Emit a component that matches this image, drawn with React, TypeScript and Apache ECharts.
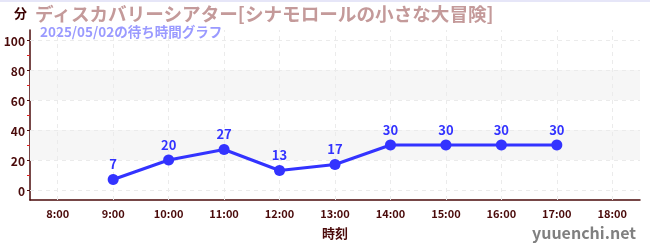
import React, { useEffect, useRef } from "react";
import * as echarts from "echarts";

const categories = ["8:00", "9:00", "10:00", "11:00", "12:00", "13:00", "14:00", "15:00", "16:00", "17:00", "18:00"];
const waitTimes: (number | null)[] = [null, 7, 20, 27, 13, 17, 30, 30, 30, 30, null];
const yTicks = [0, 20, 40, 60, 80, 100];
const yMinorTicks = [10, 30, 50, 70, 90];
const shadedBands = [[20, 40], [60, 80]];
const Y_MIN = -20 / 3;
const Y_MAX = 320 / 3;

const titleText = "ディスカバリーシアター[シナモロールの小さな大冒険]";
const subtitleText = "2025/05/02の待ち時間グラフ";
const yName = "分";
const xName = "時刻";
const watermark = "yuuenchi.net";

const FONT = "'Noto Sans CJK JP', 'Noto Sans', sans-serif";
const DARK = "#4a0a0a";
const BLUE = "#3333ff";

export default function App() {
  const ref = useRef<HTMLDivElement>(null);
  useEffect(() => {
    if (!ref.current) return;
    const chart = echarts.init(ref.current, undefined, { renderer: "svg" });
    const grid = { left: 30, right: 10, top: 30, bottom: 50 };
    const yBase = { type: "value", min: Y_MIN, max: Y_MAX, splitLine: { show: false }, gridIndex: 0 };
    chart.setOption({
      animation: false,
      textStyle: { fontFamily: FONT },
      grid,
      graphic: [
        { type: "rect", left: 0, top: 0, shape: { width: 650, height: 2 }, style: { fill: "#e6e6f8" }, silent: true },
        {
          type: "text", left: 14, top: 6,
          style: { text: yName, fontFamily: FONT, fontSize: 13, fontWeight: "bold", fill: "#3a0000" },
        },
        {
          type: "text", left: 35, top: 3,
          style: { text: titleText, fontFamily: FONT, fontSize: 18.6, fontWeight: "bold", fill: "#c49a9a" },
        },
        {
          type: "text", left: 40, top: 24,
          style: { text: subtitleText, fontFamily: FONT, fontSize: 13.5, fontWeight: "bold", fill: "#9a9aff" },
        },
        {
          type: "text", right: 14, top: 224,
          style: { text: watermark, fontFamily: FONT, fontSize: 16, fontWeight: "bold", fill: "#808080" },
        },
      ],
      xAxis: [
        {
          type: "category",
          data: categories,
          boundaryGap: true,
          name: xName,
          nameLocation: "middle",
          nameGap: 26,
          nameTextStyle: { color: DARK, fontSize: 13, fontWeight: "bold", fontFamily: FONT },
          axisLine: { onZero: false, lineStyle: { color: DARK, width: 1.5 } },
          axisTick: { alignWithLabel: true, length: 3, lineStyle: { color: DARK } },
          axisLabel: { color: DARK, fontSize: 11, fontWeight: "bold", margin: 7, fontFamily: FONT },
          splitLine: { show: false },
        },
        {
          type: "category",
          data: categories,
          boundaryGap: true,
          position: "bottom",
          axisLine: { show: false, onZero: false },
          axisTick: { alignWithLabel: true, inside: true, length: 3, lineStyle: { color: DARK } },
          axisLabel: { show: false },
          splitLine: { show: false },
        },
      ],
      yAxis: [
        {
          ...yBase,
          axisLine: { show: true, onZero: false, lineStyle: { color: DARK, width: 1.5 } },
          axisTick: { show: true, customValues: yTicks, length: 3, lineStyle: { color: DARK } },
          axisLabel: {
            customValues: yTicks, color: DARK, fontSize: 12, fontWeight: "bold", margin: 5, fontFamily: FONT,
            formatter: (v: number) => String(Math.round(v)),
          },
        },
        {
          ...yBase,
          position: "left",
          axisLine: { show: false, onZero: false },
          axisTick: { show: true, inside: true, customValues: yTicks, length: 3, lineStyle: { color: DARK } },
          axisLabel: { show: false, customValues: yTicks },
        },
        {
          ...yBase,
          position: "left",
          axisLine: { show: false, onZero: false },
          axisTick: { show: true, customValues: yMinorTicks, length: 3, lineStyle: { color: "#e02020" } },
          axisLabel: { show: false, customValues: yMinorTicks },
        },
      ],
      series: [
        {
          type: "line",
          xAxisIndex: 0,
          yAxisIndex: 0,
          data: categories.map(() => null),
          symbol: "none",
          silent: true,
          z: 1,
          markArea: {
            silent: true,
            itemStyle: { color: "#f6f6f6" },
            data: shadedBands.map(([a, b]) => [{ yAxis: a }, { yAxis: b }]),
          },
          markLine: {
            silent: true,
            symbol: ["none", "none"],
            label: { show: false },
            lineStyle: { type: [4, 4], color: "#ebebeb", width: 1 },
            data: [
              ...yTicks.map((v) => ({ yAxis: v })),
              ...categories.map((c) => ({ xAxis: c })),
            ],
          },
        },
        {
          type: "line",
          xAxisIndex: 0,
          yAxisIndex: 0,
          data: waitTimes,
          z: 5,
          symbol: "circle",
          symbolSize: 11,
          lineStyle: { color: BLUE, width: 3 },
          itemStyle: { color: BLUE },
          label: {
            show: true,
            position: "top",
            distance: 4,
            color: BLUE,
            fontSize: 13,
            fontWeight: "bold",
            fontFamily: FONT,
          },
        },
      ],
    });
    return () => chart.dispose();
  }, []);
  return <div ref={ref} style={{ position: "fixed", left: 0, top: 0, width: 650, height: 250 }} />;
}
